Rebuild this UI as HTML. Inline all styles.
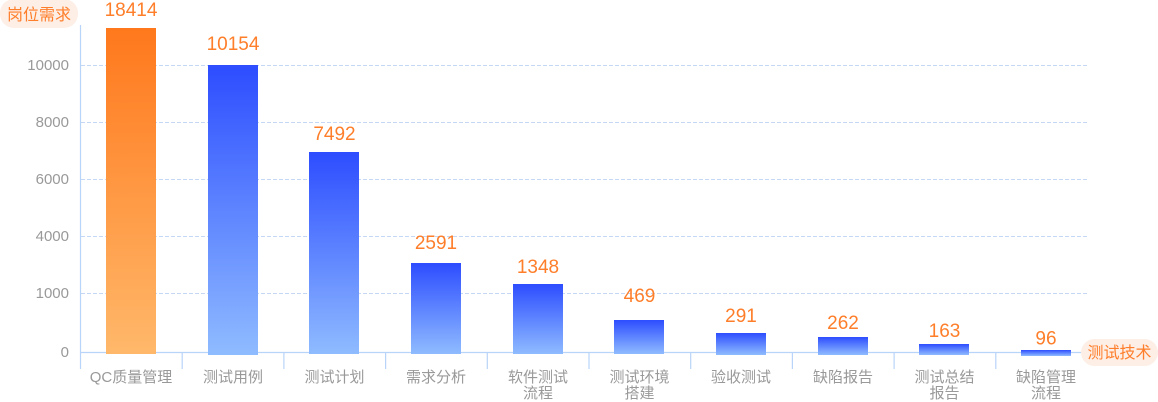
<!DOCTYPE html>
<html><head><meta charset="utf-8"><style>
html,body{margin:0;padding:0;background:#fff;}
svg{display:block;font-family:"Liberation Sans","Noto Sans CJK SC",sans-serif;}
</style></head><body>
<svg width="1158" height="402" viewBox="0 0 1158 402" xmlns="http://www.w3.org/2000/svg">
<defs>
<linearGradient id="go" x1="0" y1="0" x2="0" y2="1"><stop offset="0" stop-color="#ff781c"/><stop offset="1" stop-color="#ffb86a"/></linearGradient>
<linearGradient id="gb" x1="0" y1="0" x2="0" y2="1"><stop offset="0" stop-color="#2d4dff"/><stop offset="1" stop-color="#8fbbff"/></linearGradient>
</defs>
<g stroke="#c4d8f5" stroke-width="1" stroke-dasharray="4 2">
<line x1="81" y1="65.5" x2="1089" y2="65.5"/>
<line x1="81" y1="122.5" x2="1089" y2="122.5"/>
<line x1="81" y1="179.5" x2="1089" y2="179.5"/>
<line x1="81" y1="236.5" x2="1089" y2="236.5"/>
<line x1="81" y1="293.5" x2="1089" y2="293.5"/>
</g>
<g fill="#999" font-size="15" text-anchor="end">
<text x="69" y="70">10000</text>
<text x="69" y="127">8000</text>
<text x="69" y="184">6000</text>
<text x="69" y="241">4000</text>
<text x="69" y="298">1000</text>
<text x="69" y="357">0</text>
</g>
<g stroke="#b8d4f8" stroke-width="1.2" fill="none">
<line x1="80.5" y1="25" x2="80.5" y2="369"/>
<line x1="80.5" y1="352.5" x2="1097" y2="352.5"/>
<line x1="182.2" y1="352" x2="182.2" y2="369"/>
<line x1="283.9" y1="352" x2="283.9" y2="369"/>
<line x1="385.6" y1="352" x2="385.6" y2="369"/>
<line x1="487.3" y1="352" x2="487.3" y2="369"/>
<line x1="589" y1="352" x2="589" y2="369"/>
<line x1="690.7" y1="352" x2="690.7" y2="369"/>
<line x1="792.4" y1="352" x2="792.4" y2="369"/>
<line x1="894.1" y1="352" x2="894.1" y2="369"/>
<line x1="995.8" y1="352" x2="995.8" y2="369"/>
</g>
<rect x="106" y="28" width="50" height="326" fill="url(#go)"/>
<rect x="208" y="65" width="50" height="290" fill="url(#gb)"/>
<rect x="309" y="152" width="50" height="202" fill="url(#gb)"/>
<rect x="411" y="263" width="50" height="91" fill="url(#gb)"/>
<rect x="513" y="284" width="50" height="70" fill="url(#gb)"/>
<rect x="614" y="320" width="50" height="34" fill="url(#gb)"/>
<rect x="716" y="333" width="50" height="22" fill="url(#gb)"/>
<rect x="818" y="337" width="50" height="18" fill="url(#gb)"/>
<rect x="919" y="344" width="50" height="11" fill="url(#gb)"/>
<rect x="1021" y="350" width="50" height="6" fill="url(#gb)"/>
<g fill="#fe7e2a" font-size="19" text-anchor="middle">
<text x="131" y="16">18414</text>
<text x="233" y="50">10154</text>
<text x="334.5" y="140">7492</text>
<text x="436" y="249">2591</text>
<text x="538" y="273">1348</text>
<text x="639.5" y="302">469</text>
<text x="741" y="322">291</text>
<text x="843" y="329">262</text>
<text x="944.5" y="337">163</text>
<text x="1046" y="344.5">96</text>
</g>
<g fill="#999" font-size="15" text-anchor="middle">
<text x="131" y="382">QC质量管理</text>
<text x="233" y="382">测试用例</text>
<text x="334.5" y="382">测试计划</text>
<text x="436" y="382">需求分析</text>
<text x="538" y="382">软件测试</text>
<text x="538" y="398">流程</text>
<text x="639.5" y="382">测试环境</text>
<text x="639.5" y="398">搭建</text>
<text x="741" y="382">验收测试</text>
<text x="843" y="382">缺陷报告</text>
<text x="944.5" y="382">测试总结</text>
<text x="944.5" y="398">报告</text>
<text x="1046" y="382">缺陷管理</text>
<text x="1046" y="398">流程</text>
</g>
<rect x="0" y="-1" width="78" height="29" rx="14" fill="#fdeee6"/>
<text x="39" y="20" fill="#fe7e2a" font-size="16" text-anchor="middle">岗位需求</text>
<rect x="1081" y="339" width="77" height="27" rx="13.5" fill="#fdeee6"/>
<text x="1119.5" y="358" fill="#fe7e2a" font-size="16" text-anchor="middle">测试技术</text>
</svg>
</body></html>
